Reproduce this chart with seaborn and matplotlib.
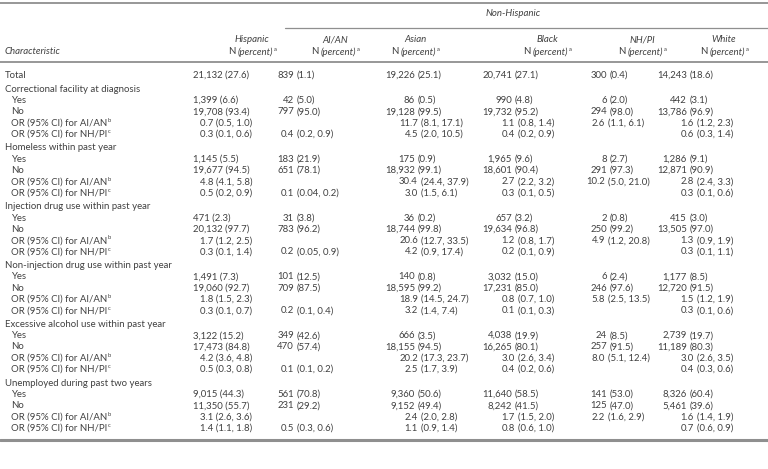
import matplotlib
matplotlib.use("Agg")
import matplotlib.pyplot as plt
import seaborn as sns

sns.set_theme(style="white")
plt.rcParams['font.family'] = ['Lato', 'DejaVu Sans']

# table content
columns = ["Hispanic", "AI/AN", "Asian", "Black", "NH/PI", "White"]
groups = ["Correctional facility at diagnosis",
          "Homeless within past year",
          "Injection drug use within past year",
          "Non-injection drug use within past year",
          "Excessive alcohol use within past year",
          "Unemployed during past two years"]

total_n = [21132, 839, 19226, 20741, 300, 14243]
total_pct = [27.6, 1.1, 25.1, 27.1, 0.4, 18.6]

yes_n = [[1399, 42, 86, 990, 6, 442],
         [1145, 183, 175, 1965, 8, 1286],
         [471, 31, 36, 657, 2, 415],
         [1491, 101, 140, 3032, 6, 1177],
         [3122, 349, 666, 4038, 24, 2739],
         [9015, 561, 9360, 11640, 141, 8326]]
yes_pct = [[6.6, 5.0, 0.5, 4.8, 2.0, 3.1],
           [5.5, 21.9, 0.9, 9.6, 2.7, 9.1],
           [2.3, 3.8, 0.2, 3.2, 0.8, 3.0],
           [7.3, 12.5, 0.8, 15.0, 2.4, 8.5],
           [15.2, 42.6, 3.5, 19.9, 8.5, 19.7],
           [44.3, 70.8, 50.6, 58.5, 53.0, 60.4]]
no_n = [[19708, 797, 19128, 19732, 294, 13786],
        [19677, 651, 18932, 18601, 291, 12871],
        [20132, 783, 18744, 19634, 250, 13505],
        [19060, 709, 18595, 17231, 246, 12720],
        [17473, 470, 18155, 16265, 257, 11189],
        [11350, 231, 9152, 8242, 125, 5461]]
no_pct = [[93.4, 95.0, 99.5, 95.2, 98.0, 96.9],
          [94.5, 78.1, 99.1, 90.4, 97.3, 90.9],
          [97.7, 96.2, 99.8, 96.8, 99.2, 97.0],
          [92.7, 87.5, 99.2, 85.0, 97.6, 91.5],
          [84.8, 57.4, 94.5, 80.1, 91.5, 80.3],
          [55.7, 29.2, 49.4, 41.5, 47.0, 39.6]]
# odds ratio (estimate, lower, upper); None where not shown
or_aian = [[(0.7, 0.5, 1.0), None, (11.7, 8.1, 17.1), (1.1, 0.8, 1.4), (2.6, 1.1, 6.1), (1.6, 1.2, 2.3)],
           [(4.8, 4.1, 5.8), None, (30.4, 24.4, 37.9), (2.7, 2.2, 3.2), (10.2, 5.0, 21.0), (2.8, 2.4, 3.3)],
           [(1.7, 1.2, 2.5), None, (20.6, 12.7, 33.5), (1.2, 0.8, 1.7), (4.9, 1.2, 20.8), (1.3, 0.9, 1.9)],
           [(1.8, 1.5, 2.3), None, (18.9, 14.5, 24.7), (0.8, 0.7, 1.0), (5.8, 2.5, 13.5), (1.5, 1.2, 1.9)],
           [(4.2, 3.6, 4.8), None, (20.2, 17.3, 23.7), (3.0, 2.6, 3.4), (8.0, 5.1, 12.4), (3.0, 2.6, 3.5)],
           [(3.1, 2.6, 3.6), None, (2.4, 2.0, 2.8), (1.7, 1.5, 2.0), (2.2, 1.6, 2.9), (1.6, 1.4, 1.9)]]
or_nhpi = [[(0.3, 0.1, 0.6), (0.4, 0.2, 0.9), (4.5, 2.0, 10.5), (0.4, 0.2, 0.9), None, (0.6, 0.3, 1.4)],
           [(0.5, 0.2, 0.9), (0.1, 0.04, 0.2), (3.0, 1.5, 6.1), (0.3, 0.1, 0.5), None, (0.3, 0.1, 0.6)],
           [(0.3, 0.1, 1.4), (0.2, 0.05, 0.9), (4.2, 0.9, 17.4), (0.2, 0.1, 0.9), None, (0.3, 0.1, 1.1)],
           [(0.3, 0.1, 0.7), (0.2, 0.1, 0.4), (3.2, 1.4, 7.4), (0.1, 0.1, 0.3), None, (0.3, 0.1, 0.6)],
           [(0.5, 0.3, 0.8), (0.1, 0.1, 0.2), (2.5, 1.7, 3.9), (0.4, 0.2, 0.6), None, (0.4, 0.3, 0.6)],
           [(1.4, 1.1, 1.8), (0.5, 0.3, 0.6), (1.1, 0.9, 1.4), (0.8, 0.6, 1.0), None, (0.7, 0.6, 0.9)]]

# layout (pixel units)
TXT = '#404040'
LINE = '#8f8f8f'
FS = 6.9
head_x = [252, 335, 415, 547, 642, 724]
hisp_n_x, hisp_or_x = 193, 200
n_paren = [None, 297, 418, 515, 610, 690]
or_paren = [None, 297, 421, 518, 608, 697]
ROW, GAP = 11.3, 13.6
SP = 3.0  # space between count and parenthesis


def fmt_num(v):
    return f"{v:.2f}" if v < 0.1 else f"{v:.1f}"


fig = plt.figure(figsize=(7.68, 4.69), dpi=100)
ax = fig.add_axes([0, 0, 1, 1])
ax.set_xlim(0, 768)
ax.set_ylim(469, 0)
ax.axis('off')
renderer = fig.canvas.get_renderer()


def width(t):
    return t.get_window_extent(renderer=renderer).width


def txt(x, y, s, **kw):
    kw.setdefault('fontsize', FS)
    kw.setdefault('color', TXT)
    kw.setdefault('va', 'center')
    return ax.text(x, y, s, **kw)


def sup(t, x, y, s):
    txt(x + width(t) + 0.5, y - 2.7, s, fontsize=4.2)


def cell(j, y, left, right, is_or):
    if j == 0:
        txt(hisp_or_x if is_or else hisp_n_x, y, f"{left} {right}", ha='left')
    else:
        px = or_paren[j] if is_or else n_paren[j]
        txt(px - SP, y, left, ha='right')
        txt(px, y, right, ha='left')


# rules
ax.plot([0, 768], [3, 3], color=LINE, lw=1.3)
ax.plot([285, 768], [28, 28], color=LINE, lw=0.9)
ax.plot([0, 768], [62, 62], color=LINE, lw=1.3)

# header
txt(513, 14, "Non-Hispanic", ha='center', style='italic')
txt(5, 52, "Characteristic", ha='left', style='italic')
for j, name in enumerate(columns):
    txt(head_x[j], 40, name, ha='center', style='italic')
    a = txt(0, 52, "N", ha='left')
    b = txt(0, 52, "(percent)", ha='left', style='italic')
    wa, wb = width(a), width(b)
    x0 = head_x[j] - (wa + 2.2 + wb + 2) / 2
    a.set_x(x0)
    b.set_x(x0 + wa + 2.2)
    sup(b, x0 + wa + 2.2, 52, "a")

# body
y = 75.5
txt(5, y, "Total", ha='left')
for j in range(6):
    cell(j, y, f"{total_n[j]:,}", f"({total_pct[j]:.1f})", False)

for g, gname in enumerate(groups):
    y += GAP
    txt(5, y, gname, ha='left')
    y += ROW
    txt(11, y, "Yes", ha='left')
    for j in range(6):
        cell(j, y, f"{yes_n[g][j]:,}", f"({yes_pct[g][j]:.1f})", False)
    y += ROW
    txt(11, y, "No", ha='left')
    for j in range(6):
        cell(j, y, f"{no_n[g][j]:,}", f"({no_pct[g][j]:.1f})", False)
    for lab, supl, vals in [("OR (95% CI) for AI/AN", "b", or_aian[g]),
                            ("OR (95% CI) for NH/PI", "c", or_nhpi[g])]:
        y += ROW
        t = txt(11, y, lab, ha='left')
        sup(t, 11, y, supl)
        for j in range(6):
            if vals[j] is None:
                continue
            est, lo, hi = vals[j]
            cell(j, y, fmt_num(est), f"({fmt_num(lo)}, {fmt_num(hi)})", True)

ax.plot([0, 768], [y + 11.5, y + 11.5], color=LINE, lw=2.2)

fig.savefig("out.png", dpi=100, facecolor='white')
